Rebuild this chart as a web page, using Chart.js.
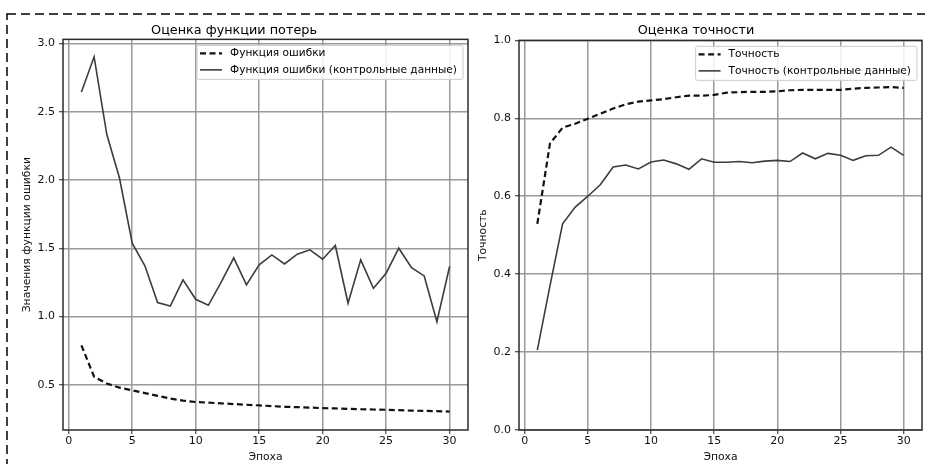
<!DOCTYPE html>
<html>
<head>
<meta charset="utf-8">
<script src="https://cdn.jsdelivr.net/npm/chart.js@4/dist/chart.umd.min.js"></script>
<style>
  html, body { margin: 0; padding: 0; background: #fff; overflow: hidden; }
  body { width: 925px; height: 464px; position: relative; }
  #border { position: absolute; left: 0; top: 0; }
  #lossChart { position: absolute; left: 0; top: 0; }
  #accChart { position: absolute; left: 470px; top: 0; }
</style>
</head>
<body>
<svg id="border" width="925" height="464">
  <rect x="7" y="14" width="2000" height="2000" fill="none" stroke="#000" stroke-width="1.5" stroke-dasharray="9 5"/>
</svg>
<canvas id="lossChart" width="470" height="464"></canvas>
<canvas id="accChart" width="455" height="464"></canvas>
<script>
const epochs = Array.from({ length: 30 }, (_, i) => i + 1);

const trainLoss = [0.79, 0.56, 0.51, 0.48, 0.46, 0.44, 0.42, 0.40, 0.385, 0.375,
  0.37, 0.365, 0.36, 0.355, 0.35, 0.345, 0.34, 0.337, 0.334, 0.33,
  0.328, 0.325, 0.322, 0.32, 0.318, 0.315, 0.312, 0.31, 0.308, 0.305];
const valLoss = [2.645, 2.902, 2.333, 2.015, 1.538, 1.372, 1.103, 1.078, 1.269, 1.127,
  1.083, 1.25, 1.43, 1.232, 1.379, 1.452, 1.386, 1.457, 1.489, 1.42,
  1.521, 1.098, 1.416, 1.208, 1.318, 1.501, 1.359, 1.298, 0.963, 1.367];

const trainAcc = [0.529, 0.735, 0.776, 0.786, 0.799, 0.812, 0.825, 0.836, 0.843, 0.846,
  0.849, 0.854, 0.858, 0.858, 0.860, 0.866, 0.867, 0.868, 0.868, 0.869,
  0.872, 0.873, 0.873, 0.873, 0.873, 0.876, 0.878, 0.879, 0.880, 0.878];
const valAcc = [0.205, 0.37, 0.529, 0.572, 0.600, 0.630, 0.675, 0.680, 0.670, 0.688,
  0.693, 0.683, 0.669, 0.696, 0.687, 0.687, 0.689, 0.686, 0.690, 0.692,
  0.689, 0.711, 0.696, 0.710, 0.705, 0.692, 0.704, 0.705, 0.726, 0.705];

const xTicks = [0, 5, 10, 15, 20, 25, 30];
const lossTicks = [0.5, 1.0, 1.5, 2.0, 2.5, 3.0];
const accTicks = [0.0, 0.2, 0.4, 0.6, 0.8, 1.0];

const FONT = "'DejaVu Sans', sans-serif";
const GRID = "#9a9a9a";

// frame around the plot area plus a matplotlib-like legend inside it
const framePlugin = {
  id: "frame",
  afterDraw(chart) {
    const { ctx, chartArea: a } = chart;
    ctx.save();
    ctx.strokeStyle = "#2b2b2b";
    ctx.lineWidth = 1.5;
    ctx.strokeRect(a.left, a.top, a.right - a.left, a.bottom - a.top);

    const items = chart.data.datasets;
    ctx.font = "10.6px " + FONT;
    const textW = Math.max(...items.map(d => ctx.measureText(d.label).width));
    const boxW = 33 + textW + 6;
    const boxH = 34;
    const bx = a.right - 5 - boxW;
    const by = a.top + 6;
    ctx.fillStyle = "rgba(255,255,255,0.85)";
    ctx.strokeStyle = "#cccccc";
    ctx.lineWidth = 1;
    ctx.beginPath();
    ctx.roundRect(bx, by, boxW, boxH, 2);
    ctx.fill();
    ctx.stroke();

    items.forEach((d, i) => {
      const y = by + 8 + i * 16.5;
      ctx.strokeStyle = d.borderColor;
      ctx.lineWidth = d.borderWidth;
      ctx.setLineDash(d.borderDash || []);
      ctx.beginPath();
      ctx.moveTo(bx + 3, y);
      ctx.lineTo(bx + 25, y);
      ctx.stroke();
      ctx.setLineDash([]);
      ctx.fillStyle = "#000";
      ctx.textBaseline = "middle";
      ctx.fillText(d.label, bx + 33, y);
    });
    ctx.restore();
  }
};

function makeChart(id, opts) {
  const ctx = document.getElementById(id).getContext("2d");
  return new Chart(ctx, {
    type: "line",
    data: {
      labels: epochs,
      datasets: [
        {
          label: opts.trainLabel,
          data: epochs.map((e, i) => ({ x: e, y: opts.train[i] })),
          borderColor: "#111",
          borderWidth: 2.2,
          borderDash: [6, 3.5],
          pointRadius: 0,
          tension: 0
        },
        {
          label: opts.valLabel,
          data: epochs.map((e, i) => ({ x: e, y: opts.val[i] })),
          borderColor: "#3c3c3c",
          borderWidth: 1.6,
          pointRadius: 0,
          tension: 0
        }
      ]
    },
    options: {
      responsive: false,
      animation: false,
      layout: { padding: { left: 0, right: opts.padRight, top: 0, bottom: 0 } },
      plugins: {
        legend: { display: false },
        tooltip: { enabled: false },
        title: {
          display: true,
          text: opts.title,
          color: "#000",
          font: { family: FONT, size: 12.8, weight: "normal" },
          padding: { top: opts.titleTop, bottom: opts.titleBottom }
        }
      },
      scales: {
        x: {
          type: "linear",
          min: -0.45,
          max: 31.45,
          afterBuildTicks: s => { s.ticks = xTicks.map(v => ({ value: v })); },
          afterFit: s => { s.height = 34; },
          grid: { color: GRID, lineWidth: 1.5, tickLength: 4, tickColor: "#222", tickWidth: 1 },
          border: { display: false },
          ticks: { color: "#111", padding: 1, font: { family: FONT, size: 11 } },
          title: {
            display: true,
            text: "Эпоха",
            color: "#111",
            font: { family: FONT, size: 10.8 },
            padding: { top: 2, bottom: 0 }
          }
        },
        y: {
          min: opts.yMin,
          max: opts.yMax,
          afterBuildTicks: s => { s.ticks = opts.yTicks.map(v => ({ value: v })); },
          afterFit: s => { s.width = opts.yWidth; },
          grid: { color: GRID, lineWidth: 1.5, tickLength: 4, tickColor: "#222", tickWidth: 1 },
          border: { display: false },
          ticks: {
            color: "#111",
            padding: 4,
            font: { family: FONT, size: 11 },
            callback: v => Number(v).toFixed(1)
          },
          title: {
            display: true,
            text: opts.yTitle,
            color: "#111",
            font: { family: FONT, size: 10.8 },
            padding: { top: opts.yTitlePad, bottom: 0 }
          }
        }
      }
    },
    plugins: [framePlugin]
  });
}

makeChart("lossChart", {
  title: "Оценка функции потерь",
  trainLabel: "Функция ошибки",
  valLabel: "Функция ошибки (контрольные данные)",
  train: trainLoss,
  val: valLoss,
  yMin: 0.17,
  yMax: 3.03,
  yTicks: lossTicks,
  yWidth: 63,
  yTitle: "Значения функции ошибки",
  yTitlePad: 20.5,
  padRight: 2,
  titleTop: 22.5,
  titleBottom: 1.5
});

makeChart("accChart", {
  title: "Оценка точности",
  trainLabel: "Точность",
  valLabel: "Точность (контрольные данные)",
  train: trainAcc,
  val: valAcc,
  yMin: 0,
  yMax: 1,
  yTicks: accTicks,
  yWidth: 49,
  yTitle: "Точность",
  yTitlePad: 7,
  padRight: 3,
  titleTop: 23,
  titleBottom: 2
});
</script>
</body>
</html>
